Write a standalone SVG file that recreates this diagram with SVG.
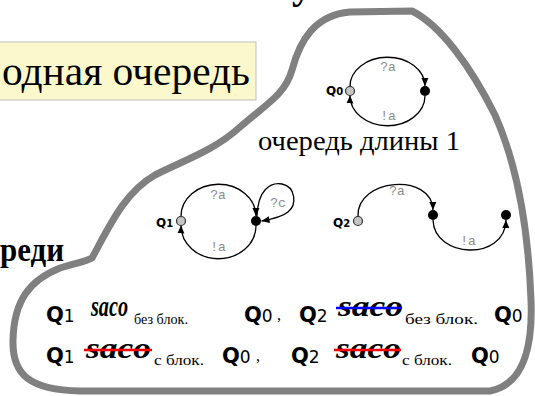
<svg xmlns="http://www.w3.org/2000/svg" width="535" height="396" viewBox="0 0 535 396">
<style>
.serif{font-family:"Liberation Serif","Times New Roman",serif;fill:#000}
.q{font-family:"DejaVu Sans","Verdana",sans-serif;fill:#000}
.qb{font-weight:bold}
.ql{font-family:"DejaVu Sans","Verdana",sans-serif;font-weight:bold;fill:#000;font-size:12px}
.lbl{font-family:"Liberation Mono","Courier New",monospace;font-size:13px;fill:#8a8a8a}
.edge{fill:none;stroke:#000;stroke-width:1.3}
.init{fill:#c4c4c4;stroke:#303030;stroke-width:1.2}
.dot{fill:#000}
.saco{font-family:"Liberation Serif","Times New Roman",serif;font-style:italic;font-weight:bold;font-size:29px}
.sub{font-family:"Liberation Serif","Times New Roman",serif;font-size:15px}
</style>
<defs>
<marker id="ah" markerWidth="9" markerHeight="9" refX="8" refY="4.5" orient="auto" markerUnits="userSpaceOnUse">
<path d="M0,1 L8,4.5 L0,8 z" fill="#000"/>
</marker>
</defs>
<rect width="535" height="396" fill="#fff"/>

<!-- cut-off heading glyph -->
<text class="serif" x="292" y="-2" font-size="40" font-weight="bold">у</text>

<!-- yellow box -->
<g id="box">
<rect x="-2" y="42" width="258" height="58" fill="#fbf8cc" stroke="#bdbdbd" stroke-width="1"/>
<text class="serif" x="2" y="85" font-size="40" textLength="248" lengthAdjust="spacingAndGlyphs">одная очередь</text>
</g>

<text class="serif" x="0" y="261" font-size="34" font-weight="bold" textLength="64" lengthAdjust="spacingAndGlyphs">реди</text>

<!-- blob -->
<path id="blob" d="M 92 258 C 110 225, 125 192, 155 175 C 185 160, 215 150, 240 127 C 265 105, 285 95, 292 70 C 300 40, 315 15, 350 12 L 412 11 C 440 25, 470 65, 495 115 C 515 160, 528 220, 531 300 C 533 350, 522 385, 490 391 L 80 391 C 30 390, 12 375, 13 340 C 14 300, 30 280, 60 268 C 75 263, 85 262, 92 258 Z" fill="none" stroke="#808080" stroke-width="7" stroke-linejoin="round"/>

<!-- connectors -->
<g id="connectors">
<path class="edge" d="M 350 86.5 A 37.5 29 0 0 1 425 86" marker-end="url(#ah)"/>
<path class="edge" d="M 425 96 A 37.5 30 0 0 1 350 95.5" marker-end="url(#ah)"/>
<path class="edge" d="M 181 216.5 A 37.5 32 0 0 1 256 216" marker-end="url(#ah)"/>
<path class="edge" d="M 256 226 A 37.5 33 0 0 1 181 225.5" marker-end="url(#ah)"/>
<path class="edge" d="M 257 216 C 258 190, 270 182, 282 184 C 296 187, 297 205, 288 212 C 282 217, 273 219, 261.5 221" marker-end="url(#ah)"/>
<path class="edge" d="M 358 216.5 C 356 178, 432 172, 433 210" marker-end="url(#ah)"/>
<path class="edge" d="M 433 220 C 434 258, 505 262, 506 220" marker-end="url(#ah)"/>
<text class="lbl" x="388" y="71" text-anchor="middle">?a</text>
<text class="lbl" x="388" y="120" text-anchor="middle">!a</text>
<text class="lbl" x="218" y="199" text-anchor="middle">?a</text>
<text class="lbl" x="218" y="251" text-anchor="middle">!a</text>
<text class="lbl" x="278" y="207" text-anchor="middle">?c</text>
<text class="lbl" x="397" y="195" text-anchor="middle">?a</text>
<text class="lbl" x="468" y="245" text-anchor="middle">!a</text>
</g>

<!-- machine 1 -->
<g id="m1-q0"><circle class="init" cx="350" cy="91" r="4.5"/><text class="ql" x="326" y="95">Q<tspan font-size="10">0</tspan></text></g>
<g id="m1-s1"><circle class="dot" cx="425" cy="91" r="5"/></g>
<text class="serif" x="258" y="150" font-size="27" textLength="202" lengthAdjust="spacingAndGlyphs">очередь длины 1</text>

<!-- machine 2 -->
<g id="m2-q1"><circle class="init" cx="181" cy="221" r="4.5"/><text class="ql" x="156" y="227">Q<tspan font-size="10">1</tspan></text></g>
<g id="m2-s1"><circle class="dot" cx="256" cy="221" r="5"/></g>

<!-- machine 3 -->
<g id="m3-q2"><circle class="init" cx="358" cy="221" r="4.5"/><text class="ql" x="333" y="227">Q<tspan font-size="10">2</tspan></text></g>
<g id="m3-s1"><circle class="dot" cx="433" cy="215" r="5"/></g>
<g id="m3-s2"><circle class="dot" cx="506" cy="215" r="5"/></g>

<!-- row 1 -->
<g id="row1">
<text class="q" x="46" y="322" font-size="21"><tspan class="qb">Q</tspan><tspan font-size="17">1</tspan></text>
<text class="saco" x="91" y="316" font-size="27" textLength="37" lengthAdjust="spacingAndGlyphs">saco</text>
<text class="sub" x="134" y="324" textLength="54" lengthAdjust="spacingAndGlyphs">без блок.</text>
<text class="q" x="244" y="322" font-size="21"><tspan class="qb">Q</tspan><tspan font-size="17">0</tspan></text>
<text class="serif" x="277" y="320" font-size="16">,</text>
<text class="q" x="299" y="322" font-size="21"><tspan class="qb">Q</tspan><tspan font-size="17">2</tspan></text>
<text class="saco" x="338" y="316" textLength="65" lengthAdjust="spacingAndGlyphs">saco</text>
<line x1="336" y1="308" x2="402" y2="308" stroke="#0000ff" stroke-width="2.5"/>
<text class="sub" x="405" y="324" font-size="17" textLength="73" lengthAdjust="spacingAndGlyphs">без блок.</text>
<text class="q" x="494" y="322" font-size="21"><tspan class="qb">Q</tspan><tspan font-size="17">0</tspan></text>
</g>

<!-- row 2 -->
<g id="row2">
<text class="q" x="46" y="363" font-size="21"><tspan class="qb">Q</tspan><tspan font-size="17">1</tspan></text>
<text class="saco" x="86" y="358" textLength="65" lengthAdjust="spacingAndGlyphs">saco</text>
<line x1="84" y1="350" x2="152" y2="350" stroke="#ff0000" stroke-width="2.5"/>
<text class="sub" x="154" y="365" textLength="50" lengthAdjust="spacingAndGlyphs">с блок.</text>
<text class="q" x="222" y="363" font-size="21"><tspan class="qb">Q</tspan><tspan font-size="17">0</tspan></text>
<text class="serif" x="256" y="361" font-size="16">,</text>
<text class="q" x="291" y="363" font-size="21"><tspan class="qb">Q</tspan><tspan font-size="17">2</tspan></text>
<text class="saco" x="336" y="358" textLength="65" lengthAdjust="spacingAndGlyphs">saco</text>
<line x1="334" y1="350" x2="401" y2="350" stroke="#ff0000" stroke-width="2.5"/>
<text class="sub" x="402" y="365" textLength="50" lengthAdjust="spacingAndGlyphs">с блок.</text>
<text class="q" x="471" y="363" font-size="21"><tspan class="qb">Q</tspan><tspan font-size="17">0</tspan></text>
</g>
</svg>
